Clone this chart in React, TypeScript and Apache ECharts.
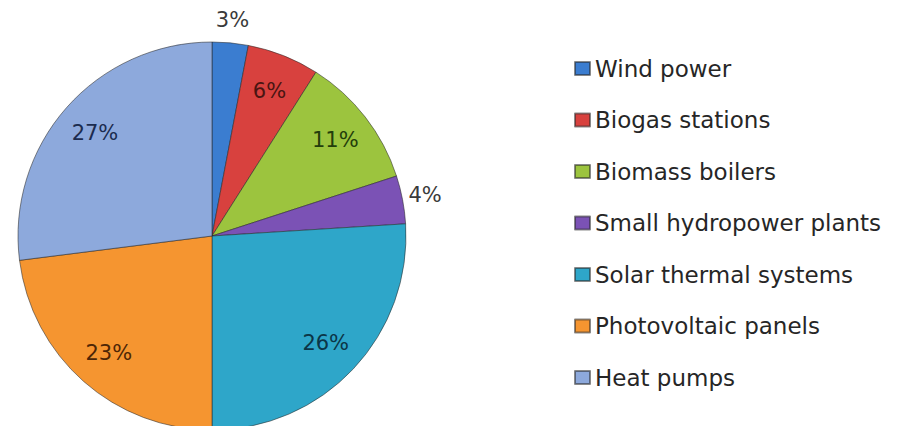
import React, { useEffect, useRef } from "react";
import * as echarts from "echarts";

const categories = [
  "Wind power",
  "Biogas stations",
  "Biomass boilers",
  "Small hydropower plants",
  "Solar thermal systems",
  "Photovoltaic panels",
  "Heat pumps",
];
const shares = [3, 6, 11, 4, 26, 23, 27];

const sliceColors = ["#3b7dd0", "#d8413e", "#9cc43e", "#7b52b5", "#2ea6c9", "#f59530", "#8da9dc"];
const labelColors = ["#3a3a3a", "#4a1512", "#233d0b", "#3a3a3a", "#0b3547", "#4d2606", "#1c2c4f"];
const smallLimit = 5;

export default function App() {
  const ref = useRef<HTMLDivElement>(null);
  useEffect(() => {
    if (!ref.current) return;
    const chart = echarts.init(ref.current, null, { renderer: "svg" });
    const font = "DejaVu Sans";
    const center = [212, 236];
    const main = categories.map((name, i) => ({
      name,
      value: shares[i],
      itemStyle: { color: sliceColors[i] },
    }));
    const inner = categories.map((name, i) => ({
      name,
      value: shares[i],
      label: { show: shares[i] >= smallLimit, color: labelColors[i] },
    }));
    const outer = categories.map((name, i) => ({
      name,
      value: shares[i],
      label: { show: shares[i] < smallLimit, color: labelColors[i] },
    }));
    const overlayBase = {
      type: "pie" as const,
      center,
      startAngle: 90,
      clockwise: true,
      silent: true,
      itemStyle: { color: "rgba(0,0,0,0)", borderWidth: 0 },
      labelLine: { show: false },
      emphasis: { disabled: true },
    };
    chart.setOption({
      animation: false,
      backgroundColor: "#ffffff",
      legend: {
        orient: "vertical",
        left: 569,
        top: 52,
        itemWidth: 15,
        itemHeight: 13,
        itemGap: 28.5,
        icon: "rect",
        data: categories,
        selectedMode: false,
        textStyle: {
          fontFamily: font,
          fontSize: 23,
          lineHeight: 22,
          color: "#262626",
        },
      },
      series: [
        {
          type: "pie",
          center,
          radius: 194,
          startAngle: 90,
          clockwise: true,
          data: main,
          label: { show: false },
          labelLine: { show: false },
          itemStyle: { borderColor: "rgba(40,40,40,0.55)", borderWidth: 1 },
          emphasis: { disabled: true },
        },
        {
          ...overlayBase,
          radius: [112, 194],
          data: inner,
          label: {
            position: "inside",
            formatter: "{c}%",
            fontFamily: font,
            fontSize: 21,
          },
        },
        {
          ...overlayBase,
          radius: [194, 234],
          data: outer,
          label: {
            position: "inside",
            formatter: "{c}%",
            fontFamily: font,
            fontSize: 21,
          },
        },
      ],
    });
    return () => chart.dispose();
  }, []);
  return (
    <div
      ref={ref}
      style={{ position: "fixed", left: 0, top: 0, width: 898, height: 426 }}
    />
  );
}
